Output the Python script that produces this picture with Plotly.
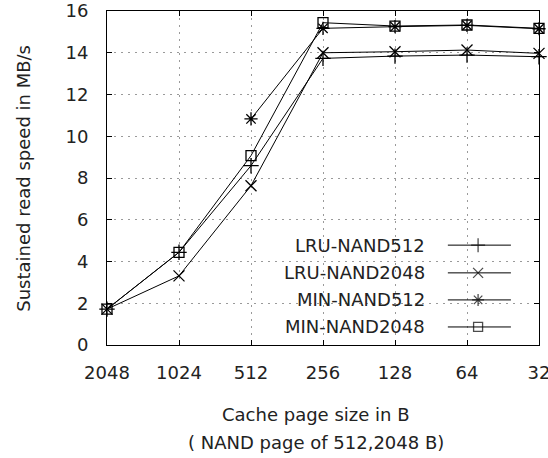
import plotly.graph_objects as go

# ---- data ----
categories = ["2048", "1024", "512", "256", "128", "64", "32"]
series_names = ["LRU-NAND512", "LRU-NAND2048", "MIN-NAND512", "MIN-NAND2048"]
lru_nand512 = [1.72, 4.44, 8.59, 13.73, 13.84, 13.89, 13.81]
lru_nand2048 = [1.72, 3.31, 7.63, 14.0, 14.05, 14.13, 13.97]
min_nand512 = [None, None, 10.83, 15.17, 15.25, 15.31, 15.15]
min_nand2048 = [1.72, 4.44, 9.07, 15.44, 15.28, 15.33, 15.17]
y_ticks = [0, 2, 4, 6, 8, 10, 12, 14, 16]

series_values = [lru_nand512, lru_nand2048, min_nand512, min_nand2048]
symbols = ["cross-thin-open", "x-thin-open", "asterisk-open", "square-open"]
sizes = [11, 11, 11, 10]

FONT = "DejaVu Sans"
TXT = "#222222"
FS = 18

x_idx = list(range(len(categories)))
XMAX = len(categories) - 1
YMAX = y_ticks[-1]

fig = go.Figure()
for name, vals, sym, sz in zip(series_names, series_values, symbols, sizes):
    fig.add_trace(go.Scatter(
        x=x_idx, y=vals, mode="lines+markers", name=name,
        line=dict(color="black", width=1),
        marker=dict(symbol=sym, size=sz, color="black",
                    line=dict(color="black", width=1.3)),
        cliponaxis=False, showlegend=False,
    ))

# custom legend (text on the left, sample on the right, like gnuplot)
leg_text_x = 0.740
leg_line_x = [0.789, 0.859, 0.935]
leg_rows = [0.299, 0.216, 0.135, 0.054]
for name, sym, sz, ry in zip(series_names, symbols, sizes, leg_rows):
    fig.add_trace(go.Scatter(
        x=[v * XMAX for v in leg_line_x], y=[ry * YMAX] * 3,
        mode="lines+markers",
        line=dict(color="black", width=1),
        marker=dict(symbol=sym, size=[0, sz - 1, 0], color="black",
                    line=dict(color="black", width=1.3)),
        showlegend=False, hoverinfo="skip",
    ))
    fig.add_annotation(x=leg_text_x, y=ry, xref="paper", yref="paper",
                       text=name, showarrow=False, xanchor="right",
                       yanchor="middle",
                       font=dict(family=FONT, size=FS, color=TXT))

axis_common = dict(
    showline=True, linecolor="black", linewidth=1, mirror="allticks",
    ticks="inside", ticklen=5, tickcolor="black",
    showgrid=True, gridcolor="#9a9a9a", griddash="2px,5px", gridwidth=1,
    zeroline=False, automargin=False,
    tickfont=dict(family=FONT, size=FS, color=TXT),
)

fig.update_layout(
    width=548, height=458,
    margin=dict(l=107, r=9, t=11, b=113, autoexpand=False),
    paper_bgcolor="white", plot_bgcolor="white",
    xaxis=dict(range=[0, XMAX], tickvals=x_idx, ticktext=categories,
               ticklabelstandoff=11, ticklabeloverflow="allow", **axis_common),
    yaxis=dict(range=[0, YMAX], tickvals=y_ticks, ticklabelstandoff=14,
               ticklabeloverflow="allow", **axis_common),
    showlegend=False,
)

fig.add_annotation(x=-0.195, y=0.5, xref="paper", yref="paper",
                   text="Sustained read speed in MB/s", textangle=-90,
                   showarrow=False, xanchor="center", yanchor="middle",
                   font=dict(family=FONT, size=FS, color=TXT))
fig.add_annotation(x=0.483, y=-0.209, xref="paper", yref="paper",
                   text="Cache page size in B", showarrow=False,
                   xanchor="center", yanchor="middle",
                   font=dict(family=FONT, size=FS, color=TXT))
fig.add_annotation(x=0.483, y=-0.293, xref="paper", yref="paper",
                   text="( NAND page of 512,2048 B)", showarrow=False,
                   xanchor="center", yanchor="middle",
                   font=dict(family=FONT, size=FS, color=TXT))

fig.write_html("out.html",
               config={"displayModeBar": False},
               post_script="document.body.style.margin='0px';"
                           "document.body.style.overflow='hidden';")
